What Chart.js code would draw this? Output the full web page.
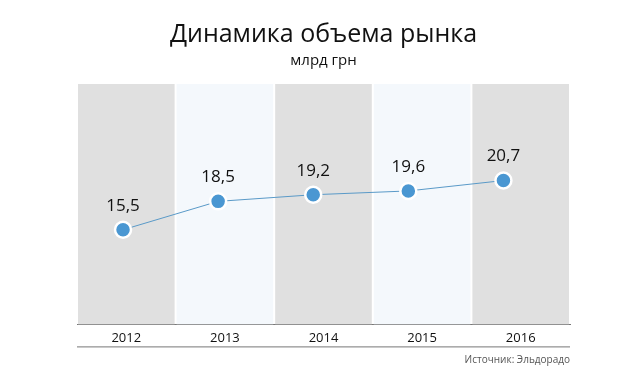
<!DOCTYPE html>
<html>
<head>
<meta charset="utf-8">
<script src="https://cdn.jsdelivr.net/npm/chart.js@4"></script>
<style>
  body { margin: 0; background: #fff; }
  #wrap { position: relative; width: 640px; height: 381px; }
  #source {
    position: absolute; right: 70px; top: 352px;
    font: 10px "Open Sans", sans-serif; color: #555;
  }
</style>
</head>
<body>
<div id="wrap">
  <canvas id="chart" width="640" height="381"></canvas>
  <div id="source">Источник: Эльдорадо</div>
</div>
<script>
const years = ['2012', '2013', '2014', '2015', '2016'];
const volumes = [15.5, 18.5, 19.2, 19.6, 20.7];
const bandColors = ['#e0e0e0', '#f4f8fc', '#e0e0e0', '#f4f8fc', '#e0e0e0'];

// подписи значений над точками
const valueLabels = {
    id: 'valueLabels',
    afterDatasetsDraw(chart) {
        const ctx = chart.ctx;
        const meta = chart.getDatasetMeta(1);
        ctx.save();
        ctx.font = '17px "Open Sans", sans-serif';
        ctx.fillStyle = '#111';
        ctx.textAlign = 'center';
        ctx.textBaseline = 'middle';
        meta.data.forEach((p, i) => {
            ctx.fillText(volumes[i].toFixed(1).replace('.', ','), p.x, p.y - 24);
        });
        ctx.restore();
    }
};

// нижняя линия под подписями годов
const bottomLine = {
    id: 'bottomLine',
    afterDraw(chart) {
        const s = chart.scales.x;
        const ctx = chart.ctx;
        ctx.save();
        ctx.strokeStyle = '#777';
        ctx.lineWidth = 1;
        ctx.beginPath();
        ctx.moveTo(s.left, s.top + 22.5);
        ctx.lineTo(s.right, s.top + 22.5);
        ctx.stroke();
        ctx.restore();
    }
};

const ctx = document.getElementById('chart').getContext('2d');
new Chart(ctx, {
    data: {
        labels: years,
        datasets: [{
            type: 'bar',
            data: years.map(() => 1),
            backgroundColor: bandColors,
            barPercentage: 0.98,
            categoryPercentage: 1,
            grouped: false,
            xAxisID: 'x',
            yAxisID: 'yb',
            order: 2
        }, {
            type: 'line',
            data: volumes.map((v, i) => ({ x: i, y: v })),
            borderColor: '#5a9ac8',
            borderWidth: 1,
            pointRadius: 8,
            pointBorderWidth: 2.5,
            pointBackgroundColor: '#4a97d2',
            pointBorderColor: '#fff',
            xAxisID: 'xl',
            yAxisID: 'y',
            order: 1
        }]
    },
    options: {
        responsive: false,
        animation: false,
        layout: { padding: { left: 77, right: 70, top: 20, bottom: 29 } },
        plugins: {
            legend: { display: false },
            tooltip: { enabled: false },
            title: {
                display: true,
                text: 'Динамика объема рынка',
                color: '#111',
                font: { family: 'Open Sans', size: 25, weight: 'normal' },
                padding: { top: 0, bottom: 2 }
            },
            subtitle: {
                display: true,
                text: 'млрд грн',
                color: '#111',
                font: { family: 'Open Sans', size: 15 },
                padding: { top: 0, bottom: 14 }
            }
        },
        scales: {
            x: {
                type: 'category',
                grid: { display: false, drawTicks: false },
                border: { display: true, color: '#777', width: 1 },
                ticks: { color: '#111', font: { family: 'Open Sans', size: 13 }, padding: 6 }
            },
            xl: {
                type: 'linear',
                display: false,
                min: -0.484,
                max: 4.70
            },
            y: {
                display: false,
                min: 5.5,
                max: 30.9
            },
            yb: {
                display: false,
                min: 0,
                max: 1
            }
        }
    },
    plugins: [valueLabels, bottomLine]
});
</script>
</body>
</html>
